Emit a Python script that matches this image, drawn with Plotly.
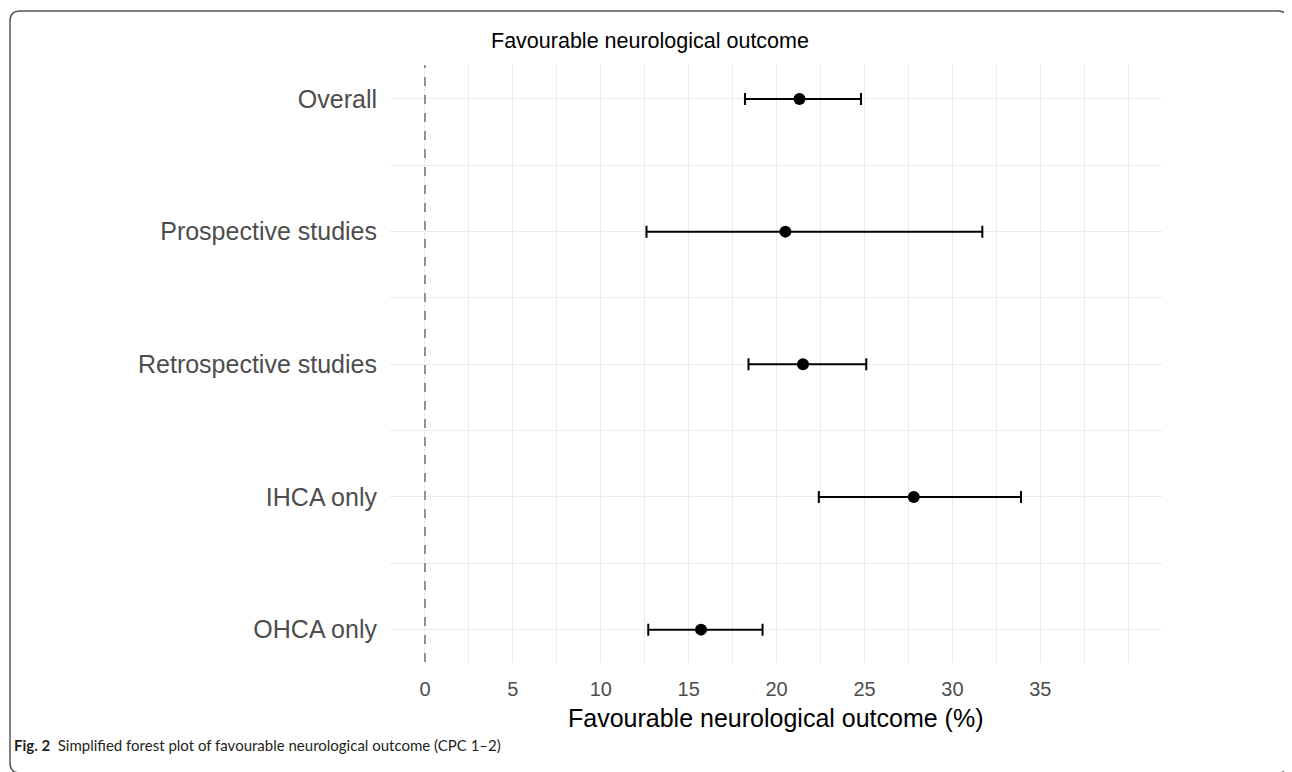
import plotly.graph_objects as go

# ---- data ----
categories = ["Overall", "Prospective studies", "Retrospective studies", "IHCA only", "OHCA only"]
estimate = [21.3, 20.5, 21.5, 27.8, 15.7]
ci_lower = [18.2, 12.6, 18.4, 22.4, 12.7]
ci_upper = [24.8, 31.7, 25.1, 33.9, 19.2]
x_tick_values = [0, 5, 10, 15, 20, 25, 30, 35, 40]
x_tick_labels = ["0", "5", "10", "15", "20", "25", "30", "35", ""]
reference_value = 0

title_text = "Favourable neurological outcome"
x_title_text = "Favourable neurological outcome (%)"
caption_bold = "Fig. 2"
caption_text = "Simplified forest plot of favourable neurological outcome (CPC 1\u20132)"

# ---- layout geometry (pixels, page coordinates minus body margin) ----
OFF = 8
W, H = 1292 - OFF, 772 - OFF
L, R, T, B = 390 - OFF, 1162 - OFF, 65 - OFF, 662 - OFF
PW, PH = R - L, B - T

def px(x):
    return (x - OFF - L) / PW

def py(y):
    return (B - (y - OFF)) / PH

ypos = list(range(len(categories)))
err_plus = [u - e for u, e in zip(ci_upper, estimate)]
err_minus = [e - l for e, l in zip(estimate, ci_lower)]

fig = go.Figure()
fig.add_trace(go.Scatter(
    x=estimate, y=ypos, mode="markers",
    marker=dict(color="black", size=12),
    error_x=dict(type="data", symmetric=False, array=err_plus, arrayminus=err_minus,
                 color="black", thickness=2, width=6),
    showlegend=False, hoverinfo="skip", cliponaxis=False,
))

fig.add_vline(x=reference_value, line=dict(color="#7a7a7a", width=1.6, dash="dash"), layer="above")

font_main = "Liberation Sans, Arial, sans-serif"

fig.update_layout(
    width=W, height=H,
    margin=dict(l=L, r=W - R, t=T, b=H - B, autoexpand=False),
    paper_bgcolor="white", plot_bgcolor="white",
    font=dict(family=font_main, color="#4d4d4d"),
    title=dict(text=title_text, x=0.5, xref="container", xanchor="center",
               y=1 - (40 - OFF) / H, yref="container", yanchor="middle",
               font=dict(size=21.5, color="black", family=font_main)),
    xaxis=dict(
        range=[-1.99, 41.92], tickmode="array", tickvals=x_tick_values, ticktext=x_tick_labels,
        showgrid=True, gridcolor="#ebebeb", gridwidth=1.4, zeroline=False, showline=False,
        ticks="", tickfont=dict(size=20, color="#4d4d4d"), ticklabelstandoff=13,
        minor=dict(dtick=2.5, tick0=0, showgrid=True, gridcolor="#ebebeb", gridwidth=1.4, ticks=""),
    ),
    yaxis=dict(
        range=[len(categories) - 1 + 0.244, -0.256], tickmode="array", tickvals=ypos, ticktext=categories,
        showgrid=True, gridcolor="#ebebeb", gridwidth=1.4, zeroline=False, showline=False,
        ticks="", tickfont=dict(size=25, color="#4d4d4d"), ticklabelstandoff=12,
        minor=dict(tickvals=[p + 0.5 for p in ypos[:-1]], showgrid=True, gridcolor="#ebebeb",
                   gridwidth=1.4, ticks=""),
    ),
)

fig.add_annotation(text=x_title_text, xref="paper", yref="paper", x=0.5, y=py(718),
                   xanchor="center", yanchor="middle", showarrow=False,
                   font=dict(size=25, color="black", family=font_main))

fig.add_annotation(text="<b>" + caption_bold + "</b>  " + caption_text, xref="paper", yref="paper",
                   x=px(12), y=py(745), xanchor="left", yanchor="middle", showarrow=False,
                   font=dict(size=15, color="#231f20", family="Lato, Open Sans, sans-serif"))

# rounded border around figure (bottom edge falls at the page edge)
x0, x1, y0, y1, r = 10, 1288, 11, 773, 10
path = (f"M {px(x0 + r)},{py(y0)} L {px(x1 - r)},{py(y0)} Q {px(x1)},{py(y0)} {px(x1)},{py(y0 + r)} "
        f"L {px(x1)},{py(y1 - r)} Q {px(x1)},{py(y1)} {px(x1 - r)},{py(y1)} "
        f"L {px(x0 + r)},{py(y1)} Q {px(x0)},{py(y1)} {px(x0)},{py(y1 - r)} "
        f"L {px(x0)},{py(y0 + r)} Q {px(x0)},{py(y0)} {px(x0 + r)},{py(y0)} Z")
fig.add_shape(type="path", path=path, xref="paper", yref="paper",
              line=dict(color="#555555", width=1.5), layer="above")

fig.write_html("out.html")
